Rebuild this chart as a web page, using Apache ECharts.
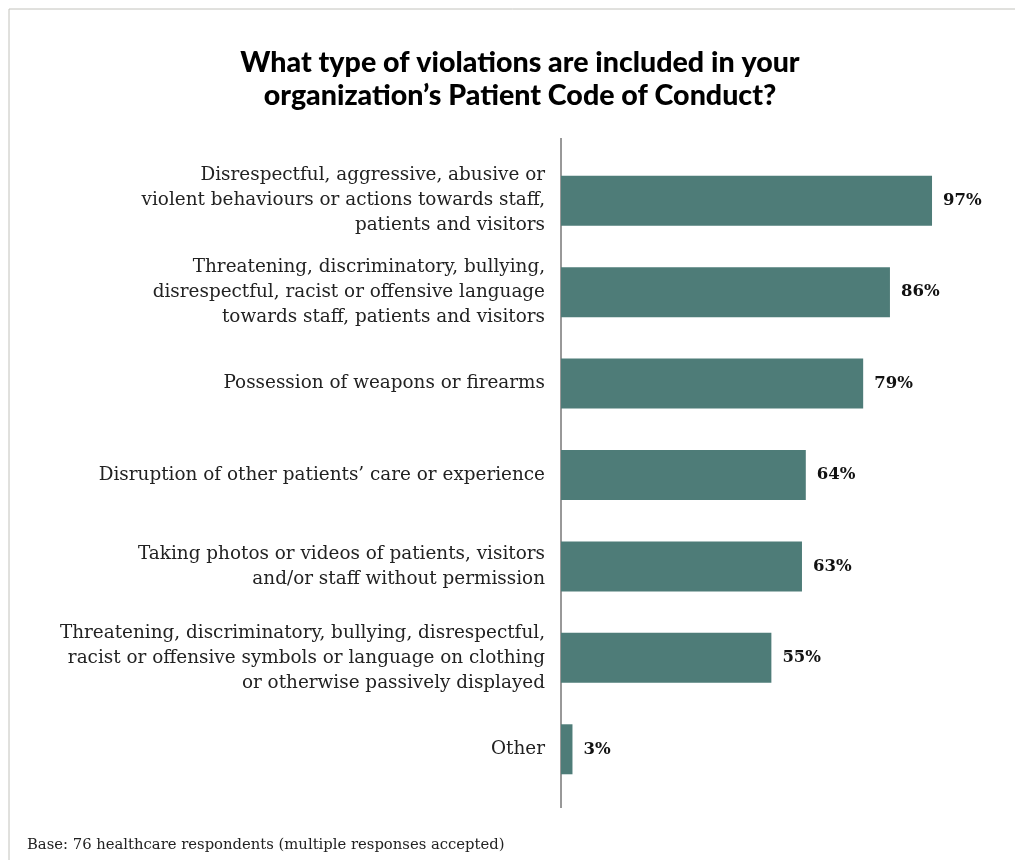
<!DOCTYPE html>
<html>
<head>
<meta charset="utf-8">
<script src="https://cdn.jsdelivr.net/npm/echarts@6/dist/echarts.min.js"></script>
<style>
html,body{margin:0;padding:0;background:#fff;}
#chart{width:1015px;height:860px;}
</style>
</head>
<body>
<div id="chart"></div>
<script>
const titleText = "What type of violations are included in your\norganization\u2019s Patient Code of Conduct?";
const footnote = "Base: 76 healthcare respondents (multiple responses accepted)";
const categories = [
  "Disrespectful, aggressive, abusive or\nviolent behaviours or actions towards staff,\npatients and visitors",
  "Threatening, discriminatory, bullying,\ndisrespectful, racist or offensive language\ntowards staff, patients and visitors",
  "Possession of weapons or firearms",
  "Disruption of other patients\u2019 care or experience",
  "Taking photos or videos of patients, visitors\nand/or staff without permission",
  "Threatening, discriminatory, bullying, disrespectful,\nracist or offensive symbols or language on clothing\nor otherwise passively displayed",
  "Other"
];
const values = [97, 86, 79, 64, 63, 55, 3];

const chart = echarts.init(document.getElementById('chart'));
chart.setOption({
  animation: false,
  backgroundColor: '#fff',
  title: {
    text: titleText,
    left: 515,
    top: 41,
    textAlign: 'center',
    textStyle: {
      fontFamily: 'Lato',
      fontWeight: 900,
      fontSize: 28.6,
      lineHeight: 33,
      color: '#000'
    }
  },
  graphic: [
    { type: 'rect', shape: { x: 9, y: 9, width: 1020, height: 870 }, style: { fill: 'none', stroke: '#c2c2bc', lineWidth: 1 }, silent: true },
    { type: 'line', shape: { x1: 561, y1: 138, x2: 561, y2: 808 }, style: { stroke: '#333', lineWidth: 1 }, silent: true },
    { type: 'text', left: 27, top: 838, style: { text: footnote, font: '14.8px "DejaVu Serif"', fill: '#222' } }
  ],
  grid: { left: 561, right: 71.5, top: 155, height: 640, containLabel: false },
  xAxis: {
    type: 'value', min: 0, max: 100, show: false
  },
  yAxis: {
    type: 'category',
    data: categories,
    inverse: true,
    axisLine: { show: false },
    axisTick: { show: false },
    axisLabel: {
      margin: 16,
      fontFamily: 'DejaVu Serif',
      fontSize: 18.4,
      lineHeight: 25,
      padding: [0, 0, 3, 0],
      color: '#222',
      align: 'right'
    }
  },
  series: [{
    type: 'bar',
    data: values,
    barWidth: 50,
    itemStyle: { color: '#4e7c78' },
    label: {
      show: true,
      position: 'right',
      distance: 11,
      formatter: '{c}%',
      fontFamily: 'DejaVu Serif',
      fontWeight: 'bold',
      fontSize: 16.5,
      color: '#111'
    }
  }]
});
</script>
</body>
</html>
